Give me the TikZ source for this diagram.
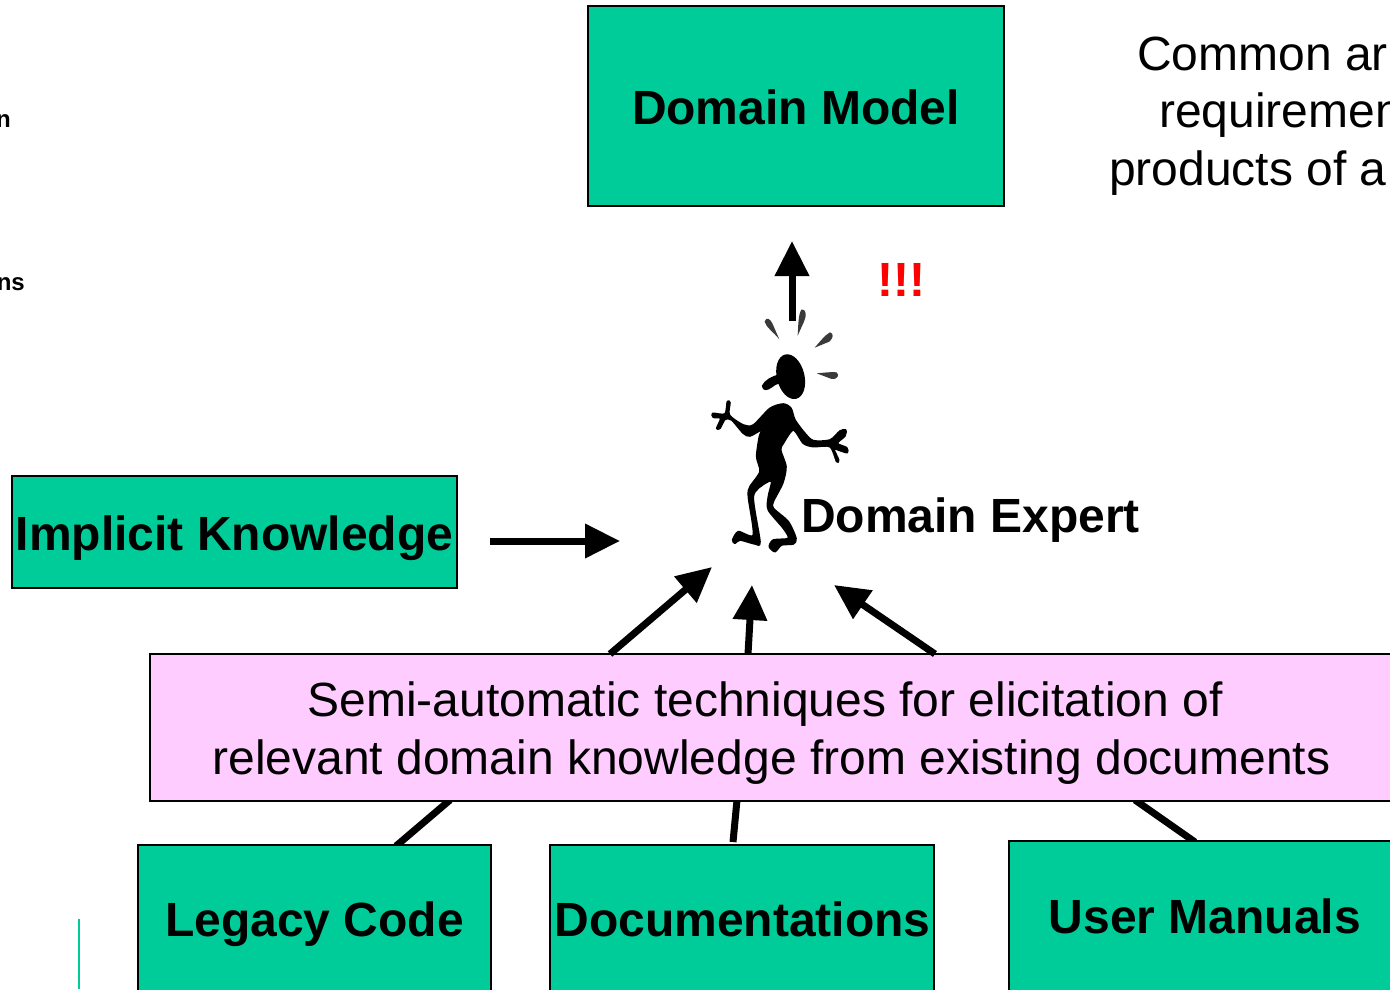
\documentclass[tikz,border=0pt]{standalone}
\usepackage{fontspec}
\setmainfont{Liberation Sans}
\usetikzlibrary{arrows.meta}
\definecolor{boxgreen}{HTML}{00CC99}
\definecolor{boxpink}{HTML}{FFCCFF}
\definecolor{dropgray}{HTML}{3A3A3A}
\tikzset{
  x=1pt,y=-1pt,
  greenbox/.style={draw=black,line width=1.5pt,fill=boxgreen,inner sep=0pt},
  pinkbox/.style={draw=black,line width=1.5pt,fill=boxpink,inner sep=0pt},
  boxtext/.style={inner sep=0pt,anchor=base,font=\fontsize{48}{58}\selectfont\bfseries},
  pinktext/.style={inner sep=0pt,anchor=base,align=center,font=\fontsize{48}{58}\selectfont},
  plain/.style={inner sep=0pt,anchor=base west,font=\fontsize{48}{58}\selectfont},
  boldlabel/.style={inner sep=0pt,anchor=base west,font=\fontsize{48}{58}\selectfont\bfseries},
  small/.style={inner sep=0pt,anchor=base east,font=\fontsize{24}{28}\selectfont\bfseries},
  bigarrow/.style={line width=7pt,-{Triangle[length=35pt,width=33pt]}},
  feed/.style={line width=7pt},
  drop/.style={fill=dropgray,draw=none},
  figure/.style={fill=black,draw=black,line width=1.6pt,line join=round}
}
\begin{document}
\begin{tikzpicture}
\path[clip] (0,0) rectangle (1390,989);
\path[fill=white] (0,0) rectangle (1390,989);

% named free ends around the figure
\coordinate (upstart) at (792,321);
\coordinate (uptip) at (792,241);
\coordinate (implicitend) at (620,541);
\coordinate (tipA) at (712,567);
\coordinate (tipB) at (752,585);
\coordinate (tipC) at (834,585);
\coordinate (startA) at (610,654);
\coordinate (startB) at (748,654);
\coordinate (startC) at (935,654);
\coordinate (feedA) at (396,846);
\coordinate (endA) at (450,800);
\coordinate (feedB) at (733,842);
\coordinate (endB) at (737,800);
\coordinate (feedC) at (1195,842);
\coordinate (endC) at (1135,800);
\coordinate (implicitstart) at (490,541);

% feeders lie behind the boxes
\draw[feed] (feedA) -- (endA);
\draw[feed] (feedB) -- (endB);
\draw[feed] (feedC) -- (endC);

\node[greenbox,minimum width=416pt,minimum height=200pt] (model) at (796,106) {};
\node[greenbox,minimum width=445pt,minimum height=112pt] (implicit) at (234.5,532) {};
\node[pinkbox,minimum width=1244pt,minimum height=147pt] (pink) at (772,727.5) {};
\node[greenbox,minimum width=353pt,minimum height=200pt] (legacy) at (314.5,945) {};
\node[greenbox,minimum width=384pt,minimum height=200pt] (docs) at (742,945) {};
\node[greenbox,minimum width=400pt,minimum height=200pt] (manuals) at (1209,941) {};
\node[boxtext] (modelt) at (796,124) {Domain Model};
\node[boxtext] (implicitt) at (234.5,550) {Implicit Knowledge};
\node[pinktext] (pinkt1) at (765,716) {Semi-automatic techniques for elicitation of};
\node[pinktext] (pinkt2) at (771.5,774) {relevant domain knowledge from existing documents};
\node[boxtext] (legacyt) at (314.5,936) {Legacy Code};
\node[boxtext] (docst) at (742.5,936) {Documentations};
\node[boxtext] (manualst) at (1205,933) {User Manuals};

\draw[bigarrow] (upstart) -- (uptip);
\draw[bigarrow] (implicitstart) -- (implicitend);
\draw[bigarrow] (startA) -- (tipA);
\draw[bigarrow] (startB) -- (tipB);
\draw[bigarrow] (startC) -- (tipC);

\node[boldlabel] (expert) at (801,532) {Domain Expert};
\node[boldlabel,text=red] (bang) at (877,296) {!!!};
\node[plain] (t1) at (1137,70) {Common ar};
\node[plain] (t2) at (1159,127) {requiremen};
\node[plain] (t3) at (1109,185) {products of a};
\node[small] (s1) at (11,127) {n};
\node[small] (s2) at (25,290) {ns};

\draw[boxgreen,line width=1.5pt] (79,919) -- (79,989);

% the figure, traced in 3x crop coordinates
\begin{scope}[shift={(690,230)},x=0.3333pt,y=-0.3333pt]
\fill[figure,rotate around={14:(302,440)}] (302,440) ellipse (39 and 66);
\fill[figure] (268,435) .. controls (245,442) and (225,452) .. (218,468) .. controls (220,482) and (232,480) .. (245,470) .. controls (255,462) and (265,458) .. (272,458) -- cycle;
\fill[figure] plot[smooth cycle,tension=0.45] coordinates {
(280,522)(303,535)(315,570)(345,610)(370,632)(420,630)(450,603)(467,600)(465,618)(442,640)(470,653)(472,668)(450,662)(432,657)(446,690)(440,695)(420,650)(370,650)(340,640)(310,600)(280,640)(272,660)(288,710)(278,760)(250,815)(250,835)(295,875)(318,925)(310,942)(275,945)(255,965)(238,950)(250,930)(295,925)(280,895)(235,840)(235,800)(245,755)(225,760)(190,800)(210,935)(195,942)(150,930)(135,940)(128,930)(145,905)(190,915)(175,800)(180,770)(210,725)(200,680)(208,620)(215,600)(180,618)(160,610)(125,570)(105,568)(90,595)(80,595)(92,565)(70,562)(68,550)(105,552)(112,515)(120,518)(118,555)(160,585)(190,585)(240,535)};
\fill[drop] (268,328) .. controls (250,305) and (230,295) .. (224,275) .. controls (228,260) and (240,265) .. (247,280) -- cycle;
\fill[drop] (323,317) .. controls (325,285) and (325,250) .. (335,238) .. controls (350,238) and (350,258) .. (342,275) -- cycle;
\fill[drop] (374,353) .. controls (390,335) and (405,315) .. (420,307) .. controls (432,310) and (430,325) .. (418,335) -- cycle;
\fill[drop] (380,430) .. controls (405,428) and (425,425) .. (440,427) .. controls (448,435) and (445,448) .. (425,447) -- cycle;
\end{scope}
\end{tikzpicture}
\end{document}
